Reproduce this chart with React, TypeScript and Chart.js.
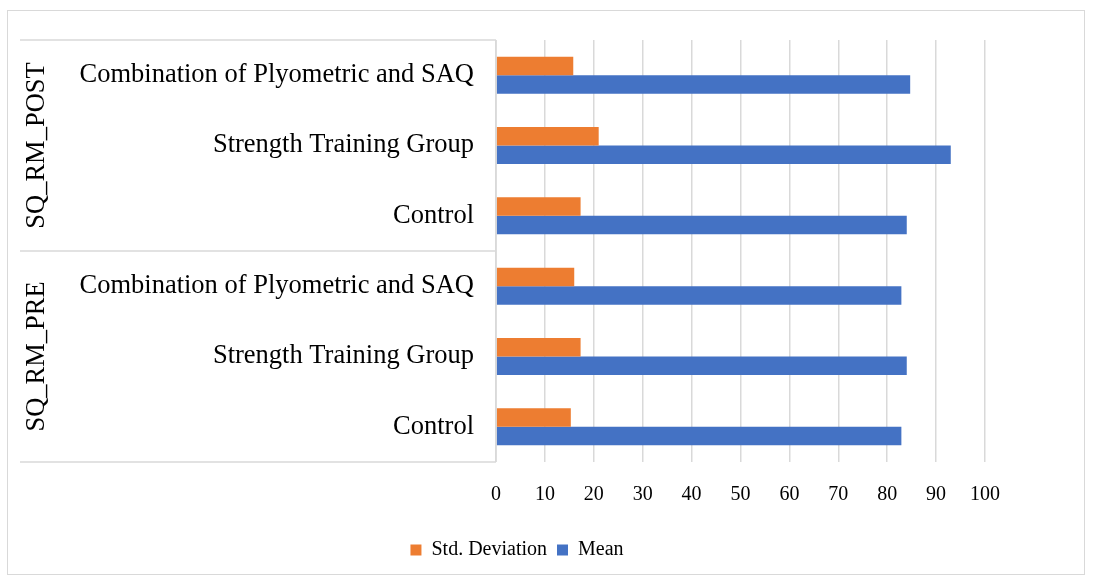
import React, { useEffect, useRef } from "react";
import { Chart, registerables } from "chart.js";

Chart.register(...registerables);

const categories = [
  "Combination of Plyometric and SAQ",
  "Strength Training Group",
  "Control",
  "Combination of Plyometric and SAQ",
  "Strength Training Group",
  "Control",
];
const groups = ["SQ_RM_POST", "SQ_RM_PRE"];
const groupSizes = [3, 3];
const stdDeviation = [15.8, 21.0, 17.3, 16.0, 17.3, 15.3];
const mean = [84.7, 93.0, 84.0, 82.9, 84.0, 82.9];
const xTicks = [0, 10, 20, 30, 40, 50, 60, 70, 80, 90, 100];

const FONT = "'Liberation Serif', 'Times New Roman', serif";
const LINE = "#d9d9d9";

const groupPlugin = {
  id: "groupAxis",
  afterDraw(chart: any) {
    const { ctx, chartArea } = chart;
    const y = chart.scales.y;
    const leftX = 12;
    const cl = chartArea.left;
    ctx.save();
    ctx.strokeStyle = LINE;
    ctx.lineWidth = 1.5;
    const bounds: number[] = [chartArea.top];
    let idx = 0;
    groupSizes.forEach((n) => {
      idx += n;
      const yy =
        idx >= categories.length
          ? chartArea.bottom
          : (y.getPixelForValue(idx - 1) + y.getPixelForValue(idx)) / 2;
      bounds.push(yy);
    });
    bounds.forEach((b) => {
      ctx.beginPath();
      ctx.moveTo(leftX, b);
      ctx.lineTo(cl, b);
      ctx.stroke();
    });
    ctx.beginPath();
    ctx.moveTo(cl, chartArea.top);
    ctx.lineTo(cl, chartArea.bottom);
    ctx.stroke();
    ctx.fillStyle = "#000";
    ctx.font = `26.5px ${FONT}`;
    ctx.textAlign = "center";
    ctx.textBaseline = "middle";
    groups.forEach((g, i) => {
      const cy = (bounds[i] + bounds[i + 1]) / 2;
      ctx.save();
      ctx.translate(29, cy);
      ctx.rotate(-Math.PI / 2);
      ctx.fillText(g, 0, 0);
      ctx.restore();
    });
    ctx.restore();
  },
};

export default function App() {
  const ref = useRef<HTMLCanvasElement | null>(null);
  useEffect(() => {
    if (!ref.current) return;
    const chart = new Chart(ref.current, {
      type: "bar",
      data: {
        labels: categories,
        datasets: [
          {
            label: "Std. Deviation",
            data: stdDeviation,
            backgroundColor: "#ED7D31",
            categoryPercentage: 0.526,
            barPercentage: 1,
          },
          {
            label: "Mean",
            data: mean,
            backgroundColor: "#4472C4",
            categoryPercentage: 0.526,
            barPercentage: 1,
          },
        ],
      },
      options: {
        indexAxis: "y",
        animation: false,
        responsive: true,
        maintainAspectRatio: false,
        layout: { padding: { left: 41, right: 99, top: 29, bottom: 4 } },
        scales: {
          x: {
            min: 0,
            max: 100,
            afterBuildTicks: (scale: any) => {
              scale.ticks = xTicks.map((v) => ({ value: v }));
            },
            afterFit: (scale: any) => {
              scale.height = 68;
            },
            grid: { color: LINE, lineWidth: 1.5, drawTicks: false },
            border: { display: false },
            ticks: {
              color: "#000",
              padding: 21,
              font: { family: FONT, size: 20 },
            },
          },
          y: {
            afterFit: (scale: any) => {
              scale.width = 447;
              scale.paddingTop = 0;
              scale.paddingBottom = 0;
            },
            grid: { display: false, drawTicks: false },
            border: { display: false },
            ticks: {
              color: "#000",
              padding: 22,
              font: { family: FONT, size: 26.5 },
            },
          },
        },
        plugins: {
          legend: {
            position: "bottom",
            labels: {
              color: "#000",
              boxWidth: 11,
              boxHeight: 11,
              padding: 10,
              font: { family: FONT, size: 20 },
            },
          },
          tooltip: { enabled: false },
        },
      },
      plugins: [groupPlugin],
    });
    return () => chart.destroy();
  }, []);
  return (
    <div
      style={{
        position: "absolute",
        left: 7,
        top: 10,
        width: 1078,
        height: 565,
        border: `1px solid ${LINE}`,
        boxSizing: "border-box",
        background: "#fff",
      }}
    >
      <canvas ref={ref} />
    </div>
  );
}
